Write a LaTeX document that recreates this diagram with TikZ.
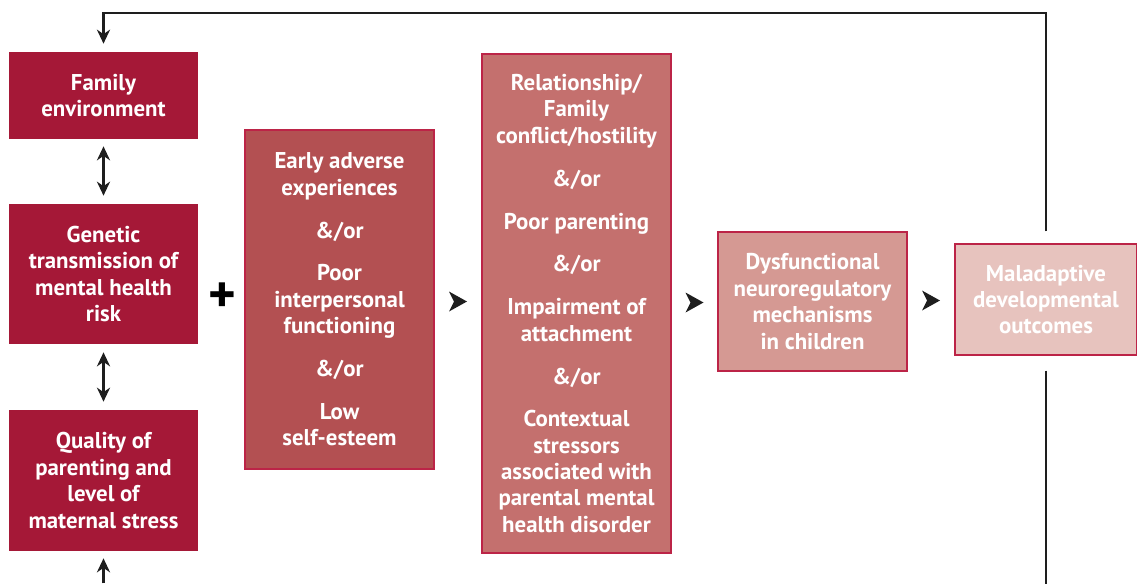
\documentclass[tikz,border=0pt]{standalone}
\usepackage{fontspec}
\setmainfont{PT Sans}
\usepackage{tikz}
\usetikzlibrary{calc,arrows.meta}
\definecolor{deep}{HTML}{A51837}
\definecolor{rose}{HTML}{B35052}
\definecolor{blush}{HTML}{C4706E}
\definecolor{pale}{HTML}{D59993}
\definecolor{faint}{HTML}{E7C3BE}
\definecolor{rim}{HTML}{BC2447}
\definecolor{ink}{HTML}{1E1E1E}
\tikzset{
  box/.style={text=white, font=\bfseries\fontsize{13}{15}\selectfont, align=center, inner sep=0pt, minimum width=3.78cm},
  boxd/.style={box, fill=deep},
  boxl/.style={box, draw=rim, line width=0.8pt},
  wire/.style={draw=ink, line width=1.3pt},
  arr/.style={wire, -{Stealth[length=8pt, width=7.5pt]}},
  arrb/.style={wire, {Stealth[length=8pt, width=7.5pt]}-{Stealth[length=8pt, width=7.5pt]}},
  head/.style={fill=ink},
}
\newcommand{\headat}[1]{\fill[head] #1 ++(-9,-10) -- ++(18,10) -- ++(-18,10) -- ++(5,-10) -- cycle;}

\begin{document}
\begin{tikzpicture}[x=0.02cm, y=-0.02cm]
  \useasboundingbox (0,0) rectangle (1137,583);
  % left column
  \node[boxd, minimum height=1.74cm] (fam) at (103.5,95.5) {Family\\environment};
  \node[boxd, minimum height=2.8cm] (gen) at (103.5,274) {Genetic\\transmission of\\mental health\\risk};
  \node[boxd, minimum height=2.82cm] (qual) at (103.5,480.5) {Quality of\\parenting and\\level of\\maternal stress};
  \node[font=\bfseries\fontsize{30}{30}\selectfont, inner sep=0pt] (plus) at (222,298) {+};
  % chain
  \node[boxl, fill=rose, minimum height=6.78cm] (early) at (339.5,299.5)
    {Early adverse\\experiences\\[9.4pt] \&/or\\[9.4pt] Poor\\interpersonal\\functioning\\[9.4pt] \&/or\\[9.4pt] Low\\self-esteem};
  \node[boxl, fill=blush, minimum height=9.98cm] (rel) at (576.5,303.5)
    {Relationship/\\Family\\conflict/hostility\\[9.4pt] \&/or\\[9.4pt] Poor parenting\\[9.4pt] \&/or\\[9.4pt] Impairment of\\attachment\\[9.4pt] \&/or\\[9.4pt] Contextual\\stressors\\associated with\\parental mental\\health disorder};
  \node[boxl, fill=pale, minimum height=2.78cm] (dys) at (812.5,301.5) {Dysfunctional\\neuroregulatory\\mechanisms\\in children};
  \node[boxl, fill=faint, minimum width=3.64cm, minimum height=2.22cm] (mal) at (1046,299.5) {Maladaptive\\developmental\\outcomes};
  \headat{($(early.east)!0.5!(rel.west)$)}
  \headat{($(rel.east)!0.5!(dys.west)$)}
  \headat{($(dys.east)!0.5!(mal.west)$)}
  % links
  \draw[arrb, shorten <=0.14cm, shorten >=0.16cm] (fam.south) -- (gen.north);
  \draw[arrb, shorten <=0.16cm, shorten >=0.16cm] (gen.south) -- (qual.north);
  \draw[arr, shorten <=0.24cm, shorten >=0.16cm] (mal.north) -- ++(0,-230) -| (fam.north);
  \draw[wire, shorten <=0.3cm] (mal.south) -- ++(0,228);
  \draw[arr, shorten >=0.14cm] (qual.south) ++(0,32) -- ++(0,-32);
\end{tikzpicture}
\end{document}
